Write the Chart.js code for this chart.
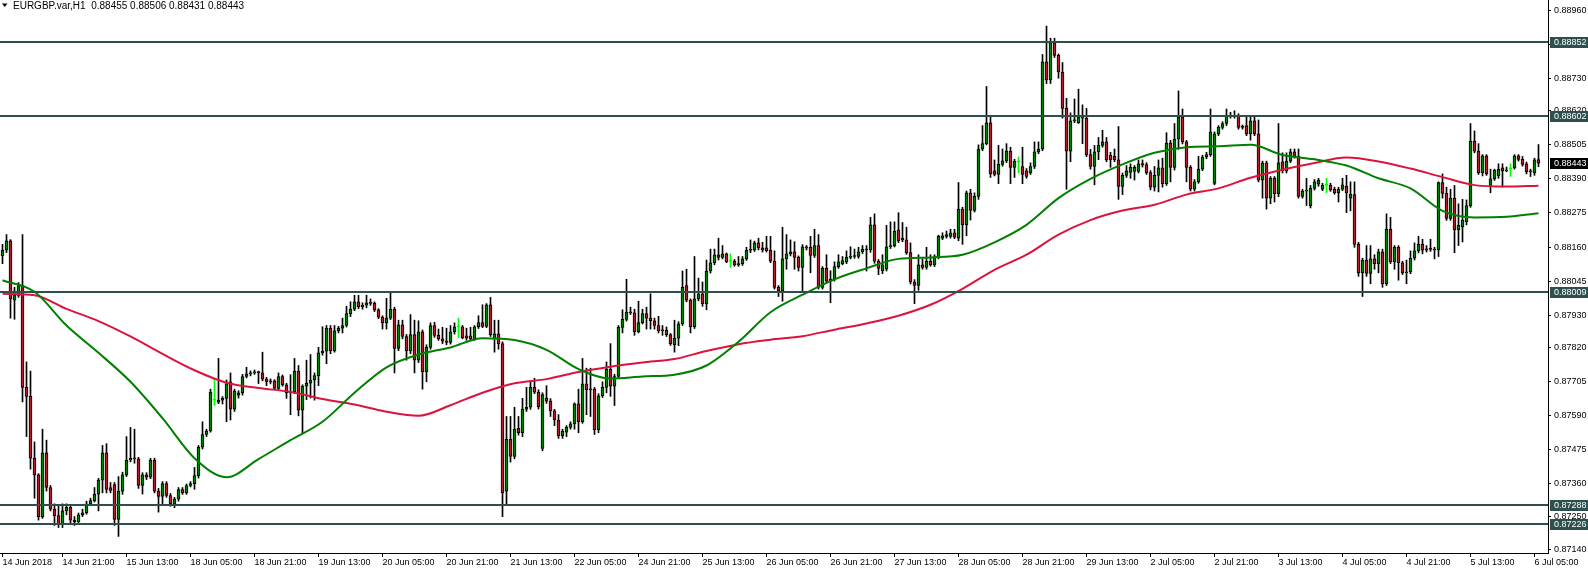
<!DOCTYPE html>
<html>
<head>
<meta charset="utf-8">
<title>EURGBP.var H1</title>
<script src="https://cdn.jsdelivr.net/npm/chart.js@4.4.1/dist/chart.umd.min.js"></script>
<style>
  html, body { margin: 0; padding: 0; background: #fff; }
  #wrap { width: 1588px; height: 571px; }
</style>
</head>
<body>
<div id="wrap"><canvas id="chart" width="1588" height="571"></canvas></div>
<script>
// EURGBP.var, H1 - 14 Jun 2018 .. 6 Jul 2018, one candle per hour
const symbolTitle = 'EURGBP.var,H1';

const openPrices = [
  0.88131,0.88149,0.88181,0.87981,0.87997,0.88030,0.87686,0.87656,0.87447,0.87391,0.87250,0.87465,0.87348,0.87275,0.87253,0.87226,
  0.87269,0.87281,0.87238,0.87232,0.87256,0.87263,0.87293,0.87304,0.87326,0.87373,0.87465,0.87348,0.87358,0.87240,0.87336,0.87391,
  0.87441,0.87447,0.87445,0.87355,0.87391,0.87383,0.87441,0.87336,0.87318,0.87361,0.87321,0.87293,0.87309,0.87341,0.87330,0.87355,
  0.87361,0.87388,0.87484,0.87527,0.87539,0.87643,0.87636,0.87643,0.87649,0.87705,0.87613,0.87660,0.87668,0.87723,0.87732,0.87735,
  0.87739,0.87735,0.87714,0.87705,0.87708,0.87683,0.87723,0.87695,0.87668,0.87670,0.87741,0.87609,0.87690,0.87700,0.87711,0.87726,
  0.87803,0.87808,0.87886,0.87809,0.87877,0.87886,0.87895,0.87935,0.87950,0.87975,0.87959,0.87964,0.87972,0.87970,0.87948,0.87923,
  0.87904,0.87920,0.87950,0.87818,0.87897,0.87858,0.87809,0.87864,0.87778,0.87874,0.87738,0.87821,0.87895,0.87862,0.87850,0.87842,
  0.87838,0.87874,0.87891,0.87891,0.87860,0.87860,0.87850,0.87891,0.87905,0.87892,0.87965,0.87850,0.87867,0.87834,0.87336,0.87511,
  0.87453,0.87548,0.87533,0.87613,0.87619,0.87686,0.87670,0.87480,0.87650,0.87640,0.87607,0.87576,0.87523,0.87535,0.87551,0.87563,
  0.87631,0.87570,0.87698,0.87678,0.87680,0.87543,0.87658,0.87686,0.87748,0.87690,0.87723,0.87889,0.87916,0.87940,0.87938,0.87874,
  0.87905,0.87935,0.87920,0.87911,0.87895,0.87877,0.87879,0.87864,0.87830,0.87852,0.87901,0.88030,0.87981,0.87891,0.87985,0.88002,
  0.87969,0.88079,0.88107,0.88134,0.88125,0.88137,0.88112,0.88112,0.88100,0.88104,0.88120,0.88149,0.88150,0.88174,0.88157,0.88157,
  0.88150,0.88112,0.88024,0.88012,0.88120,0.88137,0.88144,0.88125,0.88091,0.88161,0.88159,0.88132,0.88165,0.88024,0.88088,0.88045,
  0.88052,0.88094,0.88104,0.88110,0.88125,0.88128,0.88128,0.88144,0.88152,0.88150,0.88235,0.88112,0.88079,0.88085,0.88161,0.88165,
  0.88218,0.88190,0.88184,0.88141,0.88042,0.88030,0.88100,0.88091,0.88112,0.88100,0.88125,0.88190,0.88196,0.88196,0.88208,0.88190,
  0.88288,0.88235,0.88343,0.88284,0.88331,0.88491,0.88509,0.88579,0.88417,0.88405,0.88439,0.88451,0.88484,0.88429,0.88448,0.88432,
  0.88417,0.88410,0.88432,0.88481,0.88491,0.88785,0.88724,0.88849,0.88807,0.88751,0.88628,0.88484,0.88586,0.88580,0.88599,0.88595,
  0.88472,0.88432,0.88481,0.88503,0.88515,0.88470,0.88466,0.88454,0.88365,0.88402,0.88412,0.88415,0.88415,0.88441,0.88438,0.88411,
  0.88362,0.88402,0.88427,0.88374,0.88511,0.88429,0.88524,0.88599,0.88515,0.88429,0.88355,0.88380,0.88423,0.88464,0.88472,0.88375,
  0.88542,0.88564,0.88577,0.88603,0.88600,0.88603,0.88564,0.88570,0.88542,0.88586,0.88542,0.88386,0.88444,0.88325,0.88392,0.88340,
  0.88448,0.88417,0.88450,0.88481,0.88466,0.88331,0.88349,0.88300,0.88358,0.88372,0.88355,0.88368,0.88368,0.88355,0.88343,0.88355,
  0.88365,0.88325,0.88337,0.88169,0.88073,0.88116,0.88071,0.88120,0.88104,0.88144,0.88036,0.88220,0.88110,0.88159,0.88107,0.88073,
  0.88076,0.88122,0.88147,0.88169,0.88149,0.88154,0.88152,0.88150,0.88378,0.88341,0.88257,0.88325,0.88218,0.88228,0.88245,0.88300,
  0.88518,0.88484,0.88411,0.88468,0.88368,0.88390,0.88400,0.88427,0.88417,0.88423,0.88427,0.88468,0.88456,0.88441,0.88414,0.88410,
  0.88455
];
const highPrices = [
  0.88169,0.88202,0.88185,0.88024,0.88040,0.88202,0.87772,0.87741,0.87502,0.87395,0.87545,0.87508,0.87355,0.87293,0.87290,0.87293,
  0.87293,0.87290,0.87250,0.87262,0.87275,0.87302,0.87312,0.87348,0.87379,0.87490,0.87496,0.87365,0.87365,0.87385,0.87400,0.87520,
  0.87551,0.87545,0.87450,0.87398,0.87398,0.87447,0.87447,0.87345,0.87368,0.87368,0.87328,0.87315,0.87348,0.87348,0.87360,0.87368,
  0.87416,0.87490,0.87570,0.87545,0.87680,0.87717,0.87784,0.87655,0.87711,0.87735,0.87680,0.87675,0.87730,0.87754,0.87742,0.87745,
  0.87741,0.87805,0.87720,0.87715,0.87712,0.87735,0.87728,0.87700,0.87729,0.87784,0.87760,0.87695,0.87778,0.87797,0.87735,0.87821,
  0.87891,0.87895,0.87895,0.87895,0.87892,0.87920,0.87960,0.87975,0.87997,0.87997,0.87972,0.87997,0.87985,0.87975,0.87952,0.87928,
  0.87987,0.88005,0.87957,0.87913,0.87913,0.87865,0.87932,0.87913,0.87911,0.87880,0.87830,0.87904,0.87906,0.87883,0.87889,0.87886,
  0.87895,0.87904,0.87920,0.87895,0.87886,0.87889,0.87895,0.87928,0.87965,0.87969,0.87990,0.87913,0.87913,0.87840,0.87588,0.87588,
  0.87619,0.87588,0.87649,0.87686,0.87705,0.87717,0.87678,0.87668,0.87692,0.87648,0.87612,0.87594,0.87545,0.87557,0.87570,0.87634,
  0.87680,0.87784,0.87751,0.87751,0.87686,0.87665,0.87705,0.87772,0.87834,0.87730,0.87895,0.87948,0.88051,0.87957,0.87950,0.87977,
  0.87950,0.87957,0.88002,0.87920,0.87926,0.87895,0.87890,0.87868,0.87913,0.87908,0.88079,0.88085,0.87985,0.88128,0.88055,0.88042,
  0.88116,0.88153,0.88153,0.88190,0.88165,0.88140,0.88137,0.88118,0.88128,0.88128,0.88159,0.88184,0.88180,0.88190,0.88176,0.88196,
  0.88196,0.88147,0.88030,0.88227,0.88202,0.88184,0.88178,0.88130,0.88168,0.88165,0.88196,0.88220,0.88202,0.88094,0.88134,0.88080,
  0.88110,0.88134,0.88128,0.88147,0.88161,0.88153,0.88159,0.88165,0.88165,0.88260,0.88272,0.88118,0.88134,0.88233,0.88245,0.88245,
  0.88276,0.88243,0.88227,0.88174,0.88050,0.88134,0.88120,0.88159,0.88134,0.88134,0.88200,0.88208,0.88214,0.88220,0.88220,0.88378,
  0.88294,0.88349,0.88355,0.88343,0.88505,0.88570,0.88702,0.88601,0.88454,0.88503,0.88491,0.88509,0.88497,0.88456,0.88464,0.88497,
  0.88425,0.88444,0.88515,0.88515,0.88810,0.88906,0.88865,0.88865,0.88812,0.88783,0.88662,0.88613,0.88660,0.88693,0.88640,0.88628,
  0.88490,0.88503,0.88530,0.88554,0.88530,0.88480,0.88491,0.88567,0.88410,0.88435,0.88441,0.88435,0.88454,0.88454,0.88445,0.88418,
  0.88432,0.88454,0.88460,0.88546,0.88520,0.88577,0.88687,0.88626,0.88520,0.88435,0.88388,0.88466,0.88470,0.88480,0.88626,0.88549,
  0.88570,0.88583,0.88626,0.88615,0.88620,0.88610,0.88572,0.88601,0.88599,0.88601,0.88589,0.88450,0.88450,0.88398,0.88398,0.88577,
  0.88478,0.88478,0.88491,0.88491,0.88491,0.88355,0.88392,0.88368,0.88388,0.88392,0.88375,0.88392,0.88375,0.88362,0.88362,0.88392,
  0.88402,0.88380,0.88380,0.88176,0.88122,0.88165,0.88165,0.88134,0.88153,0.88153,0.88272,0.88260,0.88165,0.88165,0.88112,0.88116,
  0.88147,0.88174,0.88196,0.88186,0.88165,0.88186,0.88159,0.88380,0.88407,0.88362,0.88355,0.88368,0.88306,0.88321,0.88319,0.88577,
  0.88552,0.88509,0.88472,0.88472,0.88423,0.88423,0.88441,0.88441,0.88430,0.88441,0.88472,0.88472,0.88466,0.88447,0.88423,0.88460,
  0.88506
];
const lowPrices = [
  0.88104,0.88141,0.87920,0.87916,0.87990,0.87637,0.87520,0.87410,0.87312,0.87238,0.87244,0.87336,0.87269,0.87220,0.87213,0.87213,
  0.87256,0.87226,0.87220,0.87225,0.87250,0.87258,0.87287,0.87299,0.87269,0.87330,0.87330,0.87330,0.87220,0.87183,0.87325,0.87385,
  0.87435,0.87430,0.87345,0.87326,0.87375,0.87378,0.87330,0.87265,0.87293,0.87315,0.87285,0.87280,0.87302,0.87325,0.87325,0.87350,
  0.87342,0.87380,0.87478,0.87520,0.87535,0.87625,0.87631,0.87630,0.87570,0.87576,0.87605,0.87650,0.87660,0.87718,0.87725,0.87730,
  0.87699,0.87708,0.87692,0.87698,0.87678,0.87678,0.87690,0.87649,0.87594,0.87665,0.87590,0.87530,0.87645,0.87650,0.87643,0.87692,
  0.87795,0.87766,0.87800,0.87805,0.87870,0.87870,0.87890,0.87925,0.87945,0.87952,0.87950,0.87955,0.87963,0.87942,0.87918,0.87883,
  0.87883,0.87915,0.87735,0.87810,0.87850,0.87778,0.87800,0.87735,0.87770,0.87680,0.87705,0.87815,0.87855,0.87845,0.87834,0.87830,
  0.87832,0.87866,0.87854,0.87850,0.87845,0.87845,0.87845,0.87885,0.87888,0.87888,0.87858,0.87805,0.87815,0.87250,0.87293,0.87434,
  0.87445,0.87525,0.87520,0.87605,0.87612,0.87665,0.87613,0.87472,0.87632,0.87588,0.87557,0.87514,0.87514,0.87520,0.87545,0.87545,
  0.87533,0.87565,0.87594,0.87588,0.87527,0.87533,0.87652,0.87668,0.87656,0.87625,0.87718,0.87870,0.87910,0.87932,0.87862,0.87870,
  0.87900,0.87883,0.87883,0.87883,0.87870,0.87862,0.87858,0.87828,0.87805,0.87827,0.87895,0.87975,0.87870,0.87885,0.87978,0.87960,
  0.87948,0.88072,0.88100,0.88116,0.88120,0.88107,0.88091,0.88095,0.88095,0.88098,0.88115,0.88141,0.88145,0.88150,0.88143,0.88143,
  0.88107,0.88018,0.87993,0.87977,0.88085,0.88130,0.88085,0.88079,0.88012,0.88150,0.88073,0.88125,0.88018,0.88018,0.88039,0.87972,
  0.88045,0.88088,0.88100,0.88104,0.88120,0.88122,0.88122,0.88138,0.88079,0.88142,0.88105,0.88067,0.88070,0.88079,0.88155,0.88160,
  0.88175,0.88178,0.88135,0.88035,0.87969,0.88014,0.88085,0.88085,0.88095,0.88094,0.88120,0.88185,0.88190,0.88190,0.88188,0.88181,
  0.88169,0.88198,0.88251,0.88278,0.88321,0.88485,0.88505,0.88395,0.88400,0.88374,0.88433,0.88445,0.88374,0.88395,0.88411,0.88374,
  0.88392,0.88405,0.88425,0.88475,0.88485,0.88712,0.88712,0.88800,0.88730,0.88595,0.88355,0.88448,0.88580,0.88577,0.88509,0.88465,
  0.88423,0.88370,0.88455,0.88497,0.88448,0.88429,0.88448,0.88321,0.88337,0.88395,0.88392,0.88386,0.88410,0.88430,0.88405,0.88353,
  0.88349,0.88346,0.88362,0.88368,0.88380,0.88420,0.88490,0.88508,0.88380,0.88349,0.88349,0.88375,0.88418,0.88458,0.88466,0.88370,
  0.88536,0.88558,0.88570,0.88595,0.88595,0.88558,0.88558,0.88536,0.88521,0.88536,0.88380,0.88325,0.88288,0.88306,0.88312,0.88330,
  0.88410,0.88410,0.88445,0.88460,0.88325,0.88325,0.88300,0.88292,0.88352,0.88365,0.88350,0.88343,0.88348,0.88338,0.88312,0.88350,
  0.88276,0.88282,0.88159,0.88061,0.87993,0.88061,0.88036,0.88085,0.88073,0.88024,0.88030,0.88104,0.88085,0.88048,0.88067,0.88036,
  0.88070,0.88116,0.88140,0.88137,0.88143,0.88145,0.88120,0.88128,0.88325,0.88250,0.88250,0.88141,0.88165,0.88177,0.88235,0.88294,
  0.88478,0.88405,0.88400,0.88402,0.88343,0.88385,0.88392,0.88362,0.88414,0.88398,0.88423,0.88450,0.88433,0.88407,0.88398,0.88402,
  0.88431
];
const closePrices = [
  0.88149,0.88181,0.87985,0.87997,0.88030,0.87686,0.87656,0.87447,0.87391,0.87250,0.87465,0.87348,0.87275,0.87253,0.87226,0.87269,
  0.87281,0.87238,0.87232,0.87256,0.87263,0.87293,0.87304,0.87326,0.87373,0.87465,0.87342,0.87338,0.87240,0.87336,0.87391,0.87441,
  0.87447,0.87445,0.87355,0.87391,0.87383,0.87441,0.87336,0.87318,0.87361,0.87321,0.87293,0.87309,0.87341,0.87330,0.87355,0.87361,
  0.87388,0.87484,0.87527,0.87539,0.87670,0.87643,0.87643,0.87649,0.87698,0.87613,0.87674,0.87668,0.87723,0.87732,0.87735,0.87739,
  0.87736,0.87714,0.87705,0.87708,0.87683,0.87723,0.87695,0.87668,0.87670,0.87741,0.87609,0.87690,0.87700,0.87711,0.87726,0.87803,
  0.87808,0.87886,0.87809,0.87877,0.87886,0.87895,0.87935,0.87950,0.87975,0.87959,0.87964,0.87972,0.87970,0.87948,0.87923,0.87904,
  0.87920,0.87950,0.87818,0.87897,0.87858,0.87809,0.87864,0.87778,0.87874,0.87738,0.87821,0.87895,0.87862,0.87850,0.87842,0.87838,
  0.87874,0.87891,0.87891,0.87854,0.87852,0.87850,0.87891,0.87905,0.87892,0.87965,0.87864,0.87867,0.87834,0.87330,0.87511,0.87453,
  0.87545,0.87533,0.87613,0.87619,0.87686,0.87670,0.87621,0.87662,0.87640,0.87607,0.87576,0.87523,0.87539,0.87551,0.87563,0.87631,
  0.87570,0.87698,0.87678,0.87680,0.87543,0.87658,0.87686,0.87748,0.87690,0.87723,0.87889,0.87916,0.87940,0.87938,0.87874,0.87905,
  0.87935,0.87920,0.87911,0.87895,0.87877,0.87879,0.87864,0.87834,0.87852,0.87901,0.88024,0.87981,0.87891,0.87985,0.88002,0.87969,
  0.88079,0.88107,0.88134,0.88125,0.88137,0.88110,0.88112,0.88100,0.88104,0.88120,0.88149,0.88150,0.88174,0.88157,0.88150,0.88148,
  0.88112,0.88024,0.88012,0.88120,0.88137,0.88144,0.88125,0.88091,0.88161,0.88157,0.88132,0.88165,0.88024,0.88088,0.88045,0.88052,
  0.88094,0.88110,0.88114,0.88125,0.88128,0.88130,0.88144,0.88152,0.88150,0.88235,0.88112,0.88088,0.88100,0.88161,0.88165,0.88213,
  0.88181,0.88184,0.88141,0.88042,0.88030,0.88100,0.88091,0.88112,0.88100,0.88125,0.88196,0.88198,0.88202,0.88208,0.88193,0.88288,
  0.88235,0.88343,0.88284,0.88331,0.88491,0.88509,0.88579,0.88407,0.88405,0.88439,0.88451,0.88484,0.88429,0.88450,0.88448,0.88405,
  0.88398,0.88432,0.88481,0.88491,0.88785,0.88724,0.88849,0.88807,0.88751,0.88628,0.88484,0.88586,0.88588,0.88599,0.88595,0.88472,
  0.88432,0.88481,0.88503,0.88515,0.88454,0.88454,0.88454,0.88365,0.88402,0.88417,0.88429,0.88429,0.88441,0.88438,0.88411,0.88362,
  0.88402,0.88427,0.88374,0.88511,0.88429,0.88524,0.88599,0.88515,0.88429,0.88355,0.88380,0.88423,0.88464,0.88472,0.88549,0.88542,
  0.88564,0.88577,0.88603,0.88600,0.88603,0.88564,0.88566,0.88542,0.88586,0.88542,0.88386,0.88444,0.88325,0.88392,0.88340,0.88444,
  0.88417,0.88450,0.88481,0.88466,0.88331,0.88349,0.88352,0.88358,0.88380,0.88385,0.88368,0.88368,0.88353,0.88343,0.88355,0.88370,
  0.88343,0.88339,0.88169,0.88073,0.88116,0.88071,0.88120,0.88104,0.88144,0.88036,0.88220,0.88110,0.88159,0.88107,0.88073,0.88076,
  0.88122,0.88147,0.88169,0.88149,0.88154,0.88152,0.88150,0.88378,0.88341,0.88257,0.88325,0.88218,0.88233,0.88251,0.88300,0.88518,
  0.88484,0.88411,0.88468,0.88407,0.88390,0.88419,0.88422,0.88417,0.88421,0.88423,0.88468,0.88456,0.88439,0.88414,0.88417,0.88454,
  0.88443
];

// moving averages read every 8 bars
const maBars = [0,8,16,24,32,40,48,56,64,72,80,88,96,104,112,120,128,136,144,152,160,168,176,184,
  192,200,208,216,224,232,240,248,256,264,272,280,288,296,304,312,320,328,336,344,352,360,368,376,384];
const maFast = [0.88048,0.88009,0.87895,0.87803,0.87705,0.87582,0.87447,0.87383,0.87444,0.87508,0.87570,0.87668,
  0.87754,0.87797,0.87821,0.87852,0.87846,0.87813,0.87748,0.87716,0.87723,0.87729,0.87760,0.87840,
  0.87940,0.87999,0.88051,0.88088,0.88120,0.88125,0.88134,0.88176,0.88235,0.88325,0.88390,0.88439,
  0.88478,0.88497,0.88500,0.88505,0.88471,0.88456,0.88435,0.88392,0.88358,0.88282,0.88260,0.88262,0.88274];
const maSlow = [0.88002,0.87997,0.87951,0.87910,0.87858,0.87799,0.87744,0.87702,0.87684,0.87671,0.87647,0.87628,
  0.87604,0.87590,0.87626,0.87668,0.87700,0.87714,0.87738,0.87756,0.87770,0.87782,0.87809,0.87832,
  0.87847,0.87859,0.87881,0.87902,0.87928,0.87965,0.88019,0.88083,0.88134,0.88202,0.88251,0.88283,
  0.88303,0.88337,0.88358,0.88394,0.88421,0.88444,0.88462,0.88449,0.88425,0.88396,0.88369,0.88364,0.88367];

// horizontal levels drawn on the chart
const levelPrices = [0.88852, 0.88602, 0.88009, 0.87288, 0.87226];

const xTickBars = [0,15,31,47,63,79,95,111,127,143,159,175,191,207,223,239,255,271,287,303,319,335,351,367,383];
const xTickLabels = ['14 Jun 2018','14 Jun 21:00','15 Jun 13:00','18 Jun 05:00','18 Jun 21:00','19 Jun 13:00',
  '20 Jun 05:00','20 Jun 21:00','21 Jun 13:00','22 Jun 05:00','24 Jun 21:00','25 Jun 13:00','26 Jun 05:00',
  '26 Jun 21:00','27 Jun 13:00','28 Jun 05:00','28 Jun 21:00','29 Jun 13:00','2 Jul 05:00','2 Jul 21:00',
  '3 Jul 13:00','4 Jul 05:00','4 Jul 21:00','5 Jul 13:00','6 Jul 05:00'];
const yTickValues = [0.88960,0.88845,0.88730,0.88620,0.88505,0.88390,0.88275,0.88160,0.88045,0.87930,
  0.87820,0.87705,0.87590,0.87475,0.87360,0.87250,0.87140];
const priceMin = 0.87127, priceMax = 0.88994;

[openPrices, highPrices, lowPrices].forEach(a => {
  if (a.length !== closePrices.length) throw new Error('series length ' + a.length + ' vs ' + closePrices.length);
});

const BULL = '#008000', BEAR = '#B01E2A', DOJI = '#00FF00', LEVEL = '#2F4F4F';
const bars = closePrices.map((c, i) => i);
const isDoji = i => openPrices[i] === closePrices[i];
const last = closePrices.length - 1;

Chart.defaults.font.family = "'Liberation Sans', Arial, sans-serif";
Chart.defaults.font.size = 9;
Chart.defaults.color = '#000';

const overlay = {
  id: 'overlay',
  afterDatasetsDraw(chart) {
    const { ctx, chartArea, scales: { y } } = chart;
    ctx.save();
    ctx.strokeStyle = LEVEL;
    ctx.lineWidth = 2;
    levelPrices.forEach(v => {
      const py = Math.round(y.getPixelForValue(v));
      ctx.beginPath();
      ctx.moveTo(chartArea.left, py);
      ctx.lineTo(chartArea.right, py);
      ctx.stroke();
    });
    ctx.restore();
  },
  afterDraw(chart) {
    const { ctx, chartArea, scales: { y } } = chart;
    ctx.save();
    ctx.font = "9px 'Liberation Sans', Arial, sans-serif";
    ctx.textBaseline = 'middle';
    ctx.textAlign = 'left';
    const tag = (v, bg) => {
      const py = Math.round(y.getPixelForValue(v));
      ctx.fillStyle = bg;
      ctx.fillRect(chartArea.right + 2, py - 5, 38, 11);
      ctx.fillStyle = '#fff';
      ctx.fillText(v.toFixed(5), chartArea.right + 6, py + 0.5);
    };
    levelPrices.forEach(v => tag(v, LEVEL));
    tag(closePrices[last], '#000');

    // header: small triangle, symbol and last bar OHLC
    ctx.fillStyle = '#000';
    ctx.beginPath();
    ctx.moveTo(2, 3.5); ctx.lineTo(7.5, 3.5); ctx.lineTo(4.75, 7); ctx.closePath();
    ctx.fill();
    ctx.font = "10px 'Liberation Sans', Arial, sans-serif";
    const ohlc = [openPrices[last], highPrices[last], lowPrices[last], closePrices[last]].map(v => v.toFixed(5)).join(' ');
    ctx.fillText(symbolTitle + '  ' + ohlc, 13, 6);
    ctx.restore();
  }
};

new Chart(document.getElementById('chart'), {
  type: 'bar',
  data: {
    datasets: [
      {
        type: 'line', label: 'MA fast', order: 0,
        data: maBars.map((b, k) => ({ x: b, y: maFast[k] })),
        borderColor: '#008000', borderWidth: 2, pointRadius: 0, fill: false,
        cubicInterpolationMode: 'monotone'
      },
      {
        type: 'line', label: 'MA slow', order: 0,
        data: maBars.map((b, k) => ({ x: b, y: maSlow[k] })),
        borderColor: '#DC143C', borderWidth: 2, pointRadius: 0, fill: false,
        cubicInterpolationMode: 'monotone'
      },
      {
        label: 'wick', order: 2, grouped: false, barThickness: 1,
        data: bars.map(i => ({ x: i, y: [lowPrices[i], highPrices[i]] })),
        backgroundColor: bars.map(i => isDoji(i) ? DOJI : '#000')
      },
      {
        label: 'body', order: 1, grouped: false, barThickness: 3, minBarLength: 1,
        data: bars.map(i => ({ x: i, y: [openPrices[i], closePrices[i]] })),
        backgroundColor: bars.map(i => isDoji(i) ? DOJI : (closePrices[i] > openPrices[i] ? BULL : BEAR)),
        borderColor: bars.map(i => isDoji(i) ? DOJI : '#000'),
        borderWidth: 1, borderSkipped: false
      }
    ]
  },
  options: {
    responsive: false,
    animation: false,
    layout: { padding: 0 },
    plugins: { legend: { display: false }, tooltip: { enabled: false } },
    scales: {
      x: {
        type: 'linear', offset: false,
        min: -0.625, max: 386.375,
        grid: { offset: false, drawOnChartArea: false, drawTicks: true, tickLength: 4, color: '#000' },
        border: { display: true, color: '#000' },
        afterBuildTicks: s => { s.ticks = xTickBars.map(v => ({ value: v })); },
        afterFit: s => { s.height = 18; s.paddingLeft = 0; s.paddingRight = 0; },
        ticks: {
          autoSkip: false, maxRotation: 0, align: 'start', padding: 0,
          callback: (v, idx) => xTickLabels[idx]
        }
      },
      y: {
        position: 'right',
        min: priceMin, max: priceMax,
        grid: { drawOnChartArea: false, tickLength: 3, color: '#000' },
        border: { display: true, color: '#000' },
        afterBuildTicks: s => { s.ticks = yTickValues.map(v => ({ value: v })); },
        afterFit: s => { s.width = 40; s.paddingTop = 0; s.paddingBottom = 0; },
        ticks: { autoSkip: false, padding: 3, callback: v => v.toFixed(5) }
      }
    }
  },
  plugins: [overlay]
});
</script>
</body>
</html>
